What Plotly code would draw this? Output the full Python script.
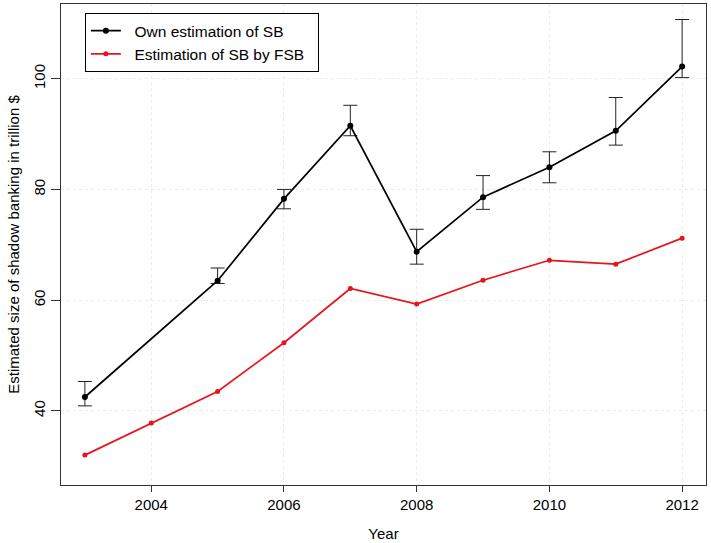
import plotly.graph_objects as go

years = [2003, 2004, 2005, 2006, 2007, 2008, 2009, 2010, 2011, 2012]
own_years = [2003, 2005, 2006, 2007, 2008, 2009, 2010, 2011, 2012]
own_est = [42.5, 63.5, 78.3, 91.5, 68.75, 78.6, 84.0, 90.6, 102.2]
own_upper = [45.3, 65.8, 80.0, 95.2, 72.8, 82.5, 86.8, 96.6, 110.7]
own_lower = [40.9, 63.0, 76.5, 89.7, 66.5, 76.4, 81.2, 88.0, 100.2]
fsb_est = [32.0, 37.8, 43.5, 52.3, 62.1, 59.3, 63.6, 67.2, 66.5, 71.2]

err_plus = [u - v for u, v in zip(own_upper, own_est)]
err_minus = [v - l for v, l in zip(own_est, own_lower)]

font = "Liberation Sans, Arial, sans-serif"
pad = "\u00a0\u00a0"

fig = go.Figure()
fig.add_trace(go.Scatter(
    x=own_years, y=own_est, mode="lines+markers",
    name=pad + "Own estimation of SB",
    line=dict(color="black", width=1.7),
    marker=dict(color="black", size=6),
    error_y=dict(type="data", symmetric=False, array=err_plus,
                 arrayminus=err_minus, color="#222222", thickness=1, width=7),
))
fig.add_trace(go.Scatter(
    x=years, y=fsb_est, mode="lines+markers",
    name=pad + "Estimation of SB by FSB" + pad,
    line=dict(color="#e8141c", width=1.7),
    marker=dict(color="#e8141c", size=5),
))

fig.update_layout(
    width=711, height=543,
    margin=dict(l=61, r=5, t=4, b=58),
    paper_bgcolor="white", plot_bgcolor="white",
    font=dict(family=font, size=15, color="black"),
    showlegend=True,
    legend=dict(x=0.037, y=0.981, xanchor="left", yanchor="top",
                bordercolor="black", borderwidth=1, bgcolor="white",
                font=dict(size=15.5, family=font), itemwidth=30,
                tracegroupgap=0),
    xaxis=dict(
        range=[2002.64, 2012.36], tickvals=[2004, 2006, 2008, 2010, 2012],
        showline=True, linecolor="#333333", linewidth=1, mirror=True,
        ticks="outside", ticklen=6, tickcolor="#333333",
        showgrid=True, gridcolor="#ebebeb", griddash="dot", gridwidth=1,
        zeroline=False, automargin=False,
        title=dict(text="Year", font=dict(size=15), standoff=16),
        tickfont=dict(size=15),
    ),
    yaxis=dict(
        range=[26.6, 113.5], tickvals=[40, 60, 80, 100],
        showline=True, linecolor="#333333", linewidth=1, mirror=True,
        ticks="outside", ticklen=9, tickcolor="#333333",
        showgrid=True, gridcolor="#ebebeb", griddash="dot", gridwidth=1,
        zeroline=False, tickangle=-90, automargin=False,
        title=dict(text="Estimated size of shadow banking in trillion $",
                   font=dict(size=15), standoff=7),
        tickfont=dict(size=15),
    ),
)

fig.write_html("out.html",
               config={"displayModeBar": False},
               post_script="document.body.style.margin='0';document.body.style.overflow='hidden';")
